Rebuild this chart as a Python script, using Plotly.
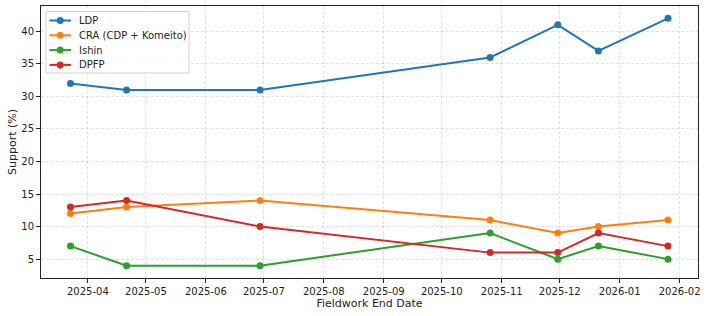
import plotly.graph_objects as go

dates = ["2025-03-23", "2025-04-21", "2025-06-29", "2025-10-26", "2025-11-30", "2025-12-21", "2026-01-26"]
ldp = [32, 31, 31, 36, 41, 37, 42]
cra = [12, 13, 14, 11, 9, 10, 11]
ishin = [7, 4, 4, 9, 5, 7, 5]
dpfp = [13, 14, 10, 6, 6, 9, 7]

series = [
    ("LDP", ldp, "#1f77b4"),
    ("CRA (CDP + Komeito)", cra, "#ff7f0e"),
    ("Ishin", ishin, "#2ca02c"),
    ("DPFP", dpfp, "#d62728"),
]

W, H = 710, 316
ML, MR, MT, MB = 41, 12, 6, 38
PW, PH = W - ML - MR, H - MT - MB


def px(x):
    return (x - ML) / PW


def py(y):
    return (H - MB - y) / PH


fig = go.Figure()
for name, vals, color in series:
    fig.add_trace(go.Scatter(
        x=dates, y=vals, name=name, mode="lines+markers",
        line=dict(color=color, width=2),
        marker=dict(color=color, size=7),
        showlegend=False,
    ))

# custom legend (matplotlib-like compact spacing)
shapes = [dict(
    type="rect", xref="paper", yref="paper", layer="above",
    x0=px(46), x1=px(189), y0=py(73), y1=py(11.5),
    line=dict(color="#d0d0d0", width=1), fillcolor="rgba(255,255,255,0.85)",
)]
annotations = []
for i, (name, vals, color) in enumerate(series):
    yc = 20.5 + i * 14.8
    shapes.append(dict(
        type="line", xref="paper", yref="paper", layer="above",
        x0=px(49.5), x1=px(71), y0=py(yc), y1=py(yc),
        line=dict(color=color, width=2),
    ))
    r = 3.5
    shapes.append(dict(
        type="circle", xref="paper", yref="paper", layer="above",
        x0=px(60.2 - r), x1=px(60.2 + r), y0=py(yc + r), y1=py(yc - r),
        line=dict(color=color, width=0), fillcolor=color,
    ))
    annotations.append(dict(
        x=px(77), y=py(yc), xref="paper", yref="paper",
        xanchor="left", yanchor="middle", showarrow=False,
        text=name, font=dict(family="DejaVu Sans", size=10, color="#222"),
    ))

axis_common = dict(
    showline=True, linecolor="#222", linewidth=1, mirror=True,
    ticks="outside", ticklen=4, tickcolor="#222",
    showgrid=True, gridcolor="rgba(0,0,0,0.12)", griddash="3px,2px", gridwidth=1,
    zeroline=False,
    tickfont=dict(family="DejaVu Sans", size=10, color="#222"),
    title_font=dict(family="DejaVu Sans", size=11, color="#222"),
)

fig.update_xaxes(
    **axis_common,
    type="date",
    range=["2025-03-07 18:00", "2026-02-10 12:00"],
    dtick="M1", tick0="2025-04-01", tickformat="%Y-%m",
    title_text="Fieldwork End Date", title_standoff=3,
)
fig.update_yaxes(
    **axis_common,
    range=[2.1, 43.9],
    tickvals=[5, 10, 15, 20, 25, 30, 35, 40],
    title_text="Support (%)", title_standoff=2,
)

fig.update_layout(
    width=W, height=H,
    margin=dict(l=ML, r=MR, t=MT, b=MB),
    paper_bgcolor="white", plot_bgcolor="white",
    font=dict(family="DejaVu Sans", size=10, color="#222"),
    showlegend=False,
    shapes=shapes,
    annotations=annotations,
)

fig.write_html("out.html")
